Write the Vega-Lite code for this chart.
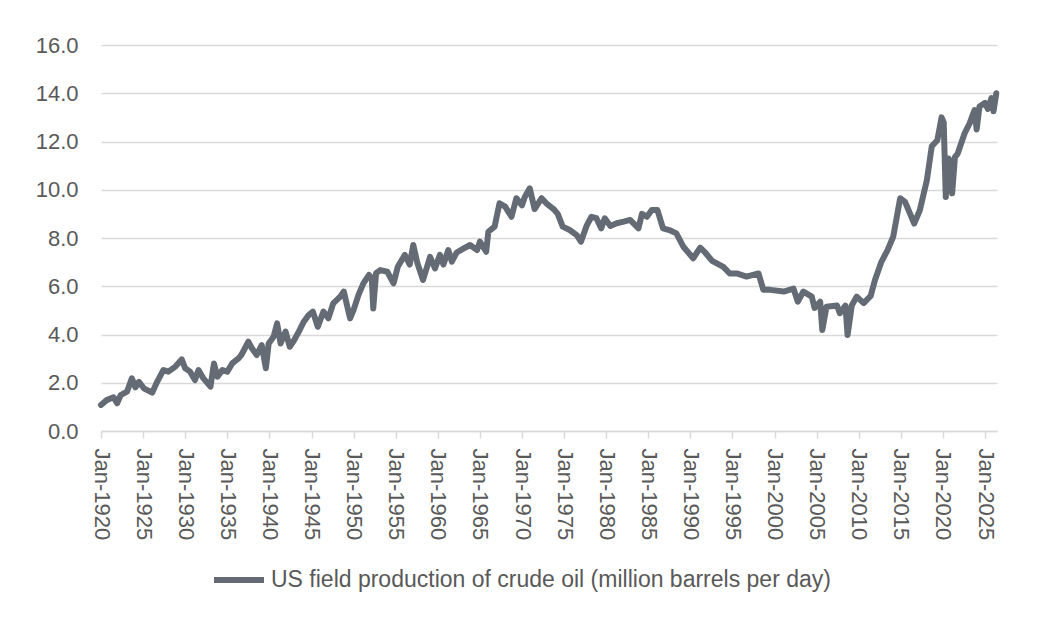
{
  "$schema": "https://vega.github.io/schema/vega-lite/v6.json",
  "width": 896,
  "height": 386,
  "autosize": {"type": "none"},
  "padding": {"left": 101, "top": 45, "right": 45, "bottom": 204},
  "background": "#ffffff",
  "config": {
    "view": {"stroke": null},
    "font": "Liberation Sans",
    "axis": {"labelFont": "Liberation Sans", "labelColor": "#595959", "labelFontSize": 22},
    "legend": {"labelFont": "Liberation Sans"}
  },
  "data": {
    "values": [
      {"date": "1920-01-01", "mbd": 1.08}, {"date": "1920-09-01", "mbd": 1.28},
      {"date": "1921-07-01", "mbd": 1.40}, {"date": "1921-12-01", "mbd": 1.15},
      {"date": "1922-05-01", "mbd": 1.49}, {"date": "1923-02-01", "mbd": 1.63},
      {"date": "1923-09-01", "mbd": 2.18}, {"date": "1924-02-01", "mbd": 1.81},
      {"date": "1924-07-01", "mbd": 2.04}, {"date": "1925-02-01", "mbd": 1.77},
      {"date": "1926-02-01", "mbd": 1.59}, {"date": "1926-09-01", "mbd": 2.04},
      {"date": "1927-06-01", "mbd": 2.53}, {"date": "1928-01-01", "mbd": 2.46},
      {"date": "1928-11-01", "mbd": 2.67}, {"date": "1929-08-01", "mbd": 2.97},
      {"date": "1930-01-01", "mbd": 2.60}, {"date": "1930-08-01", "mbd": 2.46},
      {"date": "1931-03-01", "mbd": 2.11}, {"date": "1931-08-01", "mbd": 2.53},
      {"date": "1932-03-01", "mbd": 2.18}, {"date": "1933-01-01", "mbd": 1.84},
      {"date": "1933-06-01", "mbd": 2.80}, {"date": "1933-11-01", "mbd": 2.25},
      {"date": "1934-06-01", "mbd": 2.53}, {"date": "1935-01-01", "mbd": 2.46},
      {"date": "1935-08-01", "mbd": 2.80}, {"date": "1936-05-01", "mbd": 3.01},
      {"date": "1936-09-01", "mbd": 3.15}, {"date": "1937-07-01", "mbd": 3.70},
      {"date": "1937-12-01", "mbd": 3.43}, {"date": "1938-07-01", "mbd": 3.15},
      {"date": "1939-02-01", "mbd": 3.56}, {"date": "1939-08-01", "mbd": 2.60},
      {"date": "1939-12-01", "mbd": 3.63}, {"date": "1940-07-01", "mbd": 3.91},
      {"date": "1940-12-01", "mbd": 4.46}, {"date": "1941-05-01", "mbd": 3.63},
      {"date": "1941-12-01", "mbd": 4.12}, {"date": "1942-06-01", "mbd": 3.49},
      {"date": "1942-12-01", "mbd": 3.75}, {"date": "1943-07-01", "mbd": 4.12},
      {"date": "1944-02-01", "mbd": 4.53}, {"date": "1944-09-01", "mbd": 4.81},
      {"date": "1945-03-01", "mbd": 4.95}, {"date": "1945-10-01", "mbd": 4.32},
      {"date": "1946-06-01", "mbd": 4.95}, {"date": "1947-01-01", "mbd": 4.67},
      {"date": "1947-08-01", "mbd": 5.29}, {"date": "1948-06-01", "mbd": 5.57},
      {"date": "1948-11-01", "mbd": 5.78}, {"date": "1949-08-01", "mbd": 4.67},
      {"date": "1950-01-01", "mbd": 5.02}, {"date": "1950-08-01", "mbd": 5.64},
      {"date": "1951-03-01", "mbd": 6.12}, {"date": "1951-11-01", "mbd": 6.47},
      {"date": "1952-03-01", "mbd": 6.33}, {"date": "1952-05-01", "mbd": 5.08},
      {"date": "1952-09-01", "mbd": 6.54}, {"date": "1953-03-01", "mbd": 6.67},
      {"date": "1954-01-01", "mbd": 6.60}, {"date": "1954-10-01", "mbd": 6.12},
      {"date": "1955-04-01", "mbd": 6.81}, {"date": "1956-02-01", "mbd": 7.30},
      {"date": "1956-09-01", "mbd": 6.90}, {"date": "1957-02-01", "mbd": 7.71},
      {"date": "1957-08-01", "mbd": 6.95}, {"date": "1958-04-01", "mbd": 6.26},
      {"date": "1959-02-01", "mbd": 7.22}, {"date": "1959-09-01", "mbd": 6.74},
      {"date": "1960-04-01", "mbd": 7.30}, {"date": "1960-09-01", "mbd": 6.90},
      {"date": "1961-04-01", "mbd": 7.50}, {"date": "1961-09-01", "mbd": 7.02},
      {"date": "1962-04-01", "mbd": 7.40}, {"date": "1963-02-01", "mbd": 7.57},
      {"date": "1963-11-01", "mbd": 7.71}, {"date": "1964-09-01", "mbd": 7.50},
      {"date": "1965-01-01", "mbd": 7.85}, {"date": "1965-10-01", "mbd": 7.43},
      {"date": "1966-01-01", "mbd": 8.26}, {"date": "1966-10-01", "mbd": 8.47},
      {"date": "1967-05-01", "mbd": 9.44}, {"date": "1968-01-01", "mbd": 9.30},
      {"date": "1968-10-01", "mbd": 8.88}, {"date": "1969-05-01", "mbd": 9.65},
      {"date": "1970-01-01", "mbd": 9.35}, {"date": "1970-05-01", "mbd": 9.70},
      {"date": "1970-12-01", "mbd": 10.06}, {"date": "1971-07-01", "mbd": 9.20},
      {"date": "1972-05-01", "mbd": 9.65}, {"date": "1973-01-01", "mbd": 9.40},
      {"date": "1973-10-01", "mbd": 9.20}, {"date": "1974-04-01", "mbd": 9.00},
      {"date": "1974-11-01", "mbd": 8.47}, {"date": "1975-09-01", "mbd": 8.33},
      {"date": "1976-07-01", "mbd": 8.12}, {"date": "1977-01-01", "mbd": 7.85},
      {"date": "1977-09-01", "mbd": 8.50}, {"date": "1978-04-01", "mbd": 8.88},
      {"date": "1978-11-01", "mbd": 8.82}, {"date": "1979-06-01", "mbd": 8.40},
      {"date": "1979-11-01", "mbd": 8.82}, {"date": "1980-07-01", "mbd": 8.50},
      {"date": "1981-04-01", "mbd": 8.61}, {"date": "1982-02-01", "mbd": 8.68},
      {"date": "1982-11-01", "mbd": 8.75}, {"date": "1983-11-01", "mbd": 8.40},
      {"date": "1984-04-01", "mbd": 9.00}, {"date": "1984-11-01", "mbd": 8.88},
      {"date": "1985-06-01", "mbd": 9.16}, {"date": "1986-02-01", "mbd": 9.16},
      {"date": "1986-10-01", "mbd": 8.40}, {"date": "1987-07-01", "mbd": 8.33},
      {"date": "1988-05-01", "mbd": 8.19}, {"date": "1989-03-01", "mbd": 7.64},
      {"date": "1990-05-01", "mbd": 7.16}, {"date": "1991-03-01", "mbd": 7.60},
      {"date": "1991-10-01", "mbd": 7.40}, {"date": "1992-08-01", "mbd": 7.05},
      {"date": "1993-12-01", "mbd": 6.80}, {"date": "1994-09-01", "mbd": 6.53},
      {"date": "1995-07-01", "mbd": 6.53}, {"date": "1996-09-01", "mbd": 6.40},
      {"date": "1998-02-01", "mbd": 6.53}, {"date": "1998-09-01", "mbd": 5.85},
      {"date": "1999-07-01", "mbd": 5.85}, {"date": "2001-02-01", "mbd": 5.78},
      {"date": "2002-04-01", "mbd": 5.90}, {"date": "2002-10-01", "mbd": 5.36},
      {"date": "2003-06-01", "mbd": 5.78}, {"date": "2004-06-01", "mbd": 5.57},
      {"date": "2004-10-01", "mbd": 5.10}, {"date": "2005-06-01", "mbd": 5.36},
      {"date": "2005-09-01", "mbd": 4.19}, {"date": "2006-03-01", "mbd": 5.15},
      {"date": "2007-06-01", "mbd": 5.20}, {"date": "2007-10-01", "mbd": 4.88},
      {"date": "2008-06-01", "mbd": 5.20}, {"date": "2008-09-01", "mbd": 3.98},
      {"date": "2009-03-01", "mbd": 5.20}, {"date": "2009-10-01", "mbd": 5.57},
      {"date": "2010-08-01", "mbd": 5.30}, {"date": "2011-06-01", "mbd": 5.60},
      {"date": "2011-12-01", "mbd": 6.25}, {"date": "2012-09-01", "mbd": 7.00},
      {"date": "2013-06-01", "mbd": 7.50}, {"date": "2014-02-01", "mbd": 8.05},
      {"date": "2014-12-01", "mbd": 9.65}, {"date": "2015-07-01", "mbd": 9.50},
      {"date": "2016-08-01", "mbd": 8.60}, {"date": "2017-04-01", "mbd": 9.15},
      {"date": "2018-02-01", "mbd": 10.40}, {"date": "2018-09-01", "mbd": 11.80},
      {"date": "2019-05-01", "mbd": 12.05}, {"date": "2019-11-01", "mbd": 13.00},
      {"date": "2020-02-01", "mbd": 12.80}, {"date": "2020-05-01", "mbd": 9.70},
      {"date": "2020-09-01", "mbd": 11.30}, {"date": "2021-01-01", "mbd": 11.00},
      {"date": "2021-02-01", "mbd": 9.85}, {"date": "2021-06-01", "mbd": 11.35},
      {"date": "2021-10-01", "mbd": 11.50}, {"date": "2022-08-01", "mbd": 12.35},
      {"date": "2023-03-01", "mbd": 12.75}, {"date": "2023-10-01", "mbd": 13.30},
      {"date": "2024-01-01", "mbd": 12.50}, {"date": "2024-05-01", "mbd": 13.45},
      {"date": "2025-01-01", "mbd": 13.60}, {"date": "2025-05-01", "mbd": 13.35},
      {"date": "2025-10-01", "mbd": 13.80}, {"date": "2026-01-01", "mbd": 13.25},
      {"date": "2026-05-01", "mbd": 14.00}
    ]
  },
  "mark": {"type": "line", "strokeWidth": 6, "strokeJoin": "round", "strokeCap": "round"},
  "encoding": {
    "x": {
      "field": "date",
      "type": "temporal",
      "scale": {
        "type": "utc",
        "nice": false,
        "domain": [
          {"year": 1920, "month": 1, "date": 1, "utc": true},
          {"year": 2026, "month": 6, "date": 1, "utc": true}
        ]
      },
      "axis": {
        "title": null,
        "format": "%b-%Y",
        "tickCount": {"interval": "year", "step": 5},
        "labelAngle": 90,
        "labelAlign": "left",
        "labelBaseline": "middle",
        "labelPadding": 10,
        "labelOverlap": false,
        "labelFlush": false,
        "grid": false,
        "domainColor": "#d9d9d9",
        "domainWidth": 1.5,
        "tickColor": "#d9d9d9",
        "tickWidth": 1.5,
        "tickSize": 7
      }
    },
    "y": {
      "field": "mbd",
      "type": "quantitative",
      "scale": {"domain": [0, 16], "nice": false},
      "axis": {
        "title": null,
        "values": [0, 2, 4, 6, 8, 10, 12, 14, 16],
        "format": ".1f",
        "domain": false,
        "ticks": false,
        "tickSize": 0,
        "labelPadding": 23,
        "gridColor": "#d9d9d9",
        "gridWidth": 1.5
      }
    },
    "color": {
      "datum": "US field production of crude oil (million barrels per day)",
      "scale": {"range": ["#646b74"]},
      "legend": {
        "title": null,
        "orient": "none",
        "legendX": 110,
        "legendY": 507,
        "symbolType": "stroke",
        "symbolSize": 2500,
        "symbolStrokeWidth": 6,
        "symbolStrokeColor": "#646b74",
        "labelFontSize": 23,
        "labelColor": "#595959",
        "labelLimit": 0,
        "labelOffset": 4
      }
    }
  }
}
